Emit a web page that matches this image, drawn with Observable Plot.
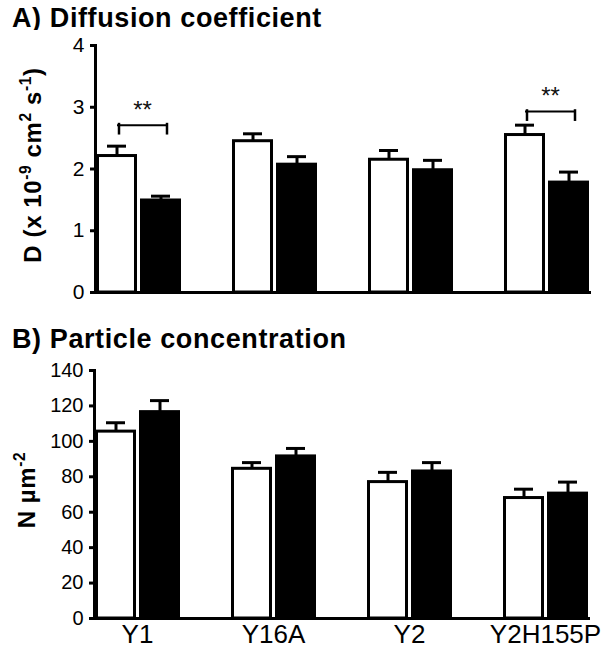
<!DOCTYPE html>
<html>
<head>
<meta charset="utf-8">
<script src="https://cdn.jsdelivr.net/npm/d3@7"></script>
<script src="https://cdn.jsdelivr.net/npm/@observablehq/plot@0.6"></script>
<style>
  body { margin: 0; background: #fff; }
  #wrap { position: relative; width: 606px; height: 650px; font-family: "Liberation Sans", Arial, sans-serif; color: #000; }
  .title { position: absolute; left: 12px; font-size: 27px; font-weight: bold; letter-spacing: 0.6px; line-height: 27px; white-space: nowrap; }
  .ylab { position: absolute; font-size: 24px; font-weight: bold; line-height: 24px; white-space: nowrap; letter-spacing: 0.6px;
          transform: translate(-50%, -50%) rotate(-90deg); }
  .ylab sup { font-size: 65%; vertical-align: baseline; position: relative; top: -0.65em; }
  .plot { position: absolute; left: 0; }
</style>
</head>
<body>
<div id="wrap">
  <div class="title" style="top:5px">A) Diffusion coefficient</div>
  <div id="plotA" class="plot" style="top:30px"></div>
  <div class="title" style="top:326px">B) Particle concentration</div>
  <div id="plotB" class="plot" style="top:355px"></div>
  <div class="ylab" style="left:34px; top:165px">D (x 10<sup>-9</sup> cm<sup>2</sup> s<sup>-1</sup>)</div>
  <div class="ylab" style="left:28px; top:490px">N µm<sup>-2</sup></div>
</div>
<script>
// ---- data ----
const categories = ["Y1", "Y16A", "Y2", "Y2H155P"];
const groups = ["open", "filled"];

// Panel A: diffusion coefficient D (x 10^-9 cm^2 s^-1)
const dOpen = [2.21, 2.45, 2.15, 2.55];
const dOpenErr = [0.16, 0.12, 0.15, 0.16];
const dFilled = [1.49, 2.07, 1.98, 1.78];
const dFilledErr = [0.07, 0.13, 0.16, 0.17];
const dTicks = [0, 1, 2, 3, 4];

// Significance brackets in panel A
const sigCategories = ["Y1", "Y2H155P"];
const sigLevel = [2.71, 2.93];
const sigLabel = ["**", "**"];

// Panel B: particle concentration N µm^-2
const nOpen = [105.5, 84.5, 77, 68];
const nOpenErr = [5, 3.5, 5.5, 5];
const nFilled = [116.5, 91.5, 83, 70.5];
const nFilledErr = [6.5, 4.5, 5, 6.5];
const nTicks = [0, 20, 40, 60, 80, 100, 120, 140];

// ---- build tables ----
function rows(open, openErr, filled, filledErr) {
  const out = [];
  categories.forEach((c, i) => {
    out.push({cat: c, group: "open", value: open[i], err: openErr[i]});
    out.push({cat: c, group: "filled", value: filled[i], err: filledErr[i]});
  });
  return out;
}
const rowsA = rows(dOpen, dOpenErr, dFilled, dFilledErr);
const rowsB = rows(nOpen, nOpenErr, nFilled, nFilledErr);
const sig = sigCategories.map((c, i) => ({cat: c, y: sigLevel[i], label: sigLabel[i]}));

const FONT = "Liberation Sans, Arial, sans-serif";

function barMarks(data) {
  return [
    Plot.ruleX(data, {fx: "cat", x: "group", y1: "value", y2: d => d.value + d.err, stroke: "black", strokeWidth: 3}),
    Plot.tickY(data, {fx: "cat", x: "group", y: d => d.value + d.err, stroke: "black", strokeWidth: 3, insetLeft: 11, insetRight: 11}),
    Plot.barY(data, {fx: "cat", x: "group", y: "value", fill: "group", stroke: "black", strokeWidth: 3, insetLeft: 1.5, insetRight: 1.5})
  ];
}

function frameMarks() {
  return [
    Plot.frame({anchor: "left", facet: "super", stroke: "black", strokeWidth: 3}),
    Plot.frame({anchor: "bottom", facet: "super", stroke: "black", strokeWidth: 3})
  ];
}

const common = {
  width: 606,
  marginRight: 13,
  color: {domain: groups, range: ["white", "black"]},
  x: {domain: groups, paddingInner: 0.07, paddingOuter: 0, axis: null},
  style: {fontFamily: FONT, fontSize: "20px", color: "black", background: "white"}
};

const plotA = Plot.plot({
  ...common,
  height: 272,
  marginLeft: 90,
  marginTop: 15,
  marginBottom: 10,
  fx: {domain: categories, paddingInner: 0.369, paddingOuter: 0.03, axis: null, label: null},
  y: {domain: [0, 4], axis: null},
  marks: [
    Plot.axisY({ticks: dTicks, tickFormat: d3.format("d"), tickSize: 5, tickPadding: 6, strokeWidth: 3, fontSize: 21, label: null}),
    ...barMarks(rowsA),
    Plot.ruleY(sig, {fx: "cat", y: "y", stroke: "black", strokeWidth: 2, insetLeft: 22, insetRight: 14}),
    Plot.ruleX(sig, {fx: "cat", x: () => "open", y1: d => d.y + 0.03, y2: d => d.y - 0.16, stroke: "black", strokeWidth: 2.5, dx: 2}),
    Plot.ruleX(sig, {fx: "cat", x: () => "filled", y1: d => d.y + 0.03, y2: d => d.y - 0.16, stroke: "black", strokeWidth: 2.5, dx: 6}),
    Plot.text(sig, {fx: "cat", y: "y", text: "label", dy: -15, dx: 4, fontSize: 24, fill: "#111"}),
    ...frameMarks()
  ]
});
document.getElementById("plotA").appendChild(plotA);

const plotB = Plot.plot({
  ...common,
  height: 295,
  marginLeft: 88,
  marginTop: 15,
  marginBottom: 32,
  fx: {domain: categories, paddingInner: 0.369, paddingOuter: 0.04, label: null, axis: null},
  y: {domain: [0, 140], axis: null},
  marks: [
    Plot.axisY({ticks: nTicks, tickFormat: d3.format("d"), tickSize: 5, tickPadding: 6, strokeWidth: 3, fontSize: 20, label: null}),
    Plot.axisFx({anchor: "bottom", tickSize: 0, tickPadding: 6, fontSize: 26, label: null}),
    ...barMarks(rowsB),
    ...frameMarks()
  ]
});
document.getElementById("plotB").appendChild(plotB);
</script>
</body>
</html>
